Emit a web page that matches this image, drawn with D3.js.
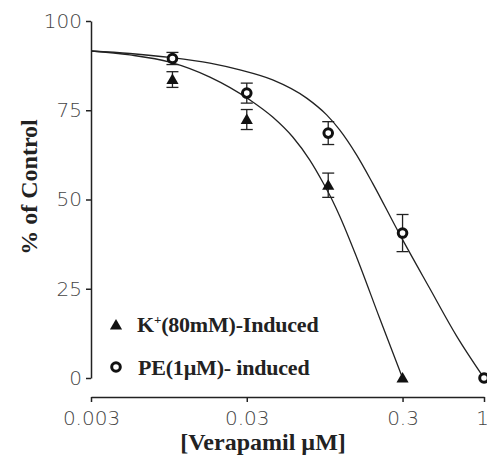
<!DOCTYPE html>
<html>
  <head>
    <meta charset="utf-8">
    <title>Verapamil inhibition</title>
    <script src="https://d3js.org/d3.v7.min.js"></script>
    <style>
      body { margin: 0; background: #fff; }
      .axis path, .axis line { stroke: #222; stroke-width: 1.5; }
      .axis text { font-family: "DejaVu Sans", sans-serif; font-weight: 200; font-size: 20px; fill: #444; }
      .title { font-family: "Liberation Serif", "Times New Roman", serif; font-weight: bold; font-size: 24px; fill: #222; }
      .legend { font-family: "Liberation Serif", "Times New Roman", serif; font-weight: bold; font-size: 22px; fill: #222; letter-spacing: -0.2px; }
      .fit { fill: none; stroke: #222; stroke-width: 1.3; }
      .err { stroke: #222; stroke-width: 1.3; }
    </style>
  </head>
  <body>
    <svg id="chart" width="487" height="461"></svg>
    <script>
      // measured points (mean, +/- error)
      var kDoses = [0.01, 0.03, 0.1, 0.3];
      var kMean = [83.6, 72.4, 54, 0];
      var kErr = [2.2, 2.8, 3.4, 0];
      var peDoses = [0.01, 0.03, 0.1, 0.3, 1];
      var peMean = [89.5, 79.8, 68.6, 40.6, 0];
      var peErr = [1.7, 2.8, 3.2, 5.2, 0];

      // fitted curves
      var kCurveX = [0.003, 0.00533, 0.00962, 0.0174, 0.0314, 0.044, 0.0592, 0.076, 0.0921, 0.1068, 0.1184, 0.152, 0.2136, 0.3];
      var kCurveY = [91.6, 90.5, 88.5, 84.3, 77.9, 73.1, 67.5, 61.1, 54.9, 49.6, 45.4, 33.9, 16.8, 0];
      var peCurveX = [0.003, 0.00533, 0.00962, 0.0174, 0.0271, 0.044, 0.0727, 0.0977, 0.1184, 0.152, 0.1926, 0.287, 0.447, 0.666, 1];
      var peCurveY = [91.6, 90.9, 89.8, 88.2, 86.3, 83.5, 78.4, 73.7, 69.5, 62.5, 54.6, 40.3, 25.2, 11.8, 0];

      // axes
      var xTicks = [0.003, 0.03, 0.3, 1];
      var xTickLabels = ["0.003", "0.03", "0.3", "1"];
      var yTicks = [0, 25, 50, 75, 100];

      var svg = d3.select("#chart");

      var x = d3.scaleLog().domain([0.003, 1]).range([91, 484]);
      var y = d3.scaleLinear().domain([0, 100]).range([378, 21]);

      var xAxis = d3.axisBottom(x)
        .tickValues(xTicks)
        .tickFormat(function(d, i) { return xTickLabels[i]; })
        .tickSize(5)
        .tickSizeOuter(0)
        .tickPadding(9);
      var yAxis = d3.axisLeft(y)
        .tickValues(yTicks)
        .tickSize(5)
        .tickSizeOuter(0)
        .tickPadding(4);

      svg.append("g")
        .attr("class", "axis")
        .attr("transform", "translate(0,397)")
        .call(xAxis);
      svg.append("g")
        .attr("class", "axis")
        .attr("transform", "translate(91,0)")
        .call(yAxis);
      // keep the last tick label inside the picture
      svg.selectAll(".axis text")
        .filter(function(d) { return d === 1; })
        .attr("dx", -2);

      // titles
      svg.append("text")
        .attr("class", "title")
        .attr("transform", "translate(37,187) rotate(-90)")
        .attr("text-anchor", "middle")
        .text("% of Control");
      svg.append("text")
        .attr("class", "title")
        .attr("x", 263)
        .attr("y", 450)
        .attr("text-anchor", "middle")
        .text("[Verapamil \u00b5M]");

      // fitted lines
      var line = d3.line()
        .x(function(d) { return x(d[0]); })
        .y(function(d) { return y(d[1]); })
        .curve(d3.curveMonotoneX);
      svg.append("path")
        .attr("class", "fit")
        .attr("d", line(d3.zip(kCurveX, kCurveY)));
      svg.append("path")
        .attr("class", "fit")
        .attr("d", line(d3.zip(peCurveX, peCurveY)));

      // error bars
      function errorBars(doses, means, errs) {
        var rows = d3.zip(doses, means, errs).filter(function(d) { return d[2] > 0; });
        var g = svg.append("g");
        rows.forEach(function(d) {
          var cx = x(d[0]);
          g.append("line").attr("class", "err")
            .attr("x1", cx).attr("x2", cx)
            .attr("y1", y(d[1] - d[2])).attr("y2", y(d[1] + d[2]));
          [d[1] - d[2], d[1] + d[2]].forEach(function(v) {
            g.append("line").attr("class", "err")
              .attr("x1", cx - 6).attr("x2", cx + 6)
              .attr("y1", y(v)).attr("y2", y(v));
          });
        });
      }
      errorBars(kDoses, kMean, kErr);
      errorBars(peDoses, peMean, peErr);

      // markers
      var triangle = d3.symbol().type(d3.symbolTriangle).size(64);
      svg.append("g")
        .selectAll("path")
          .data(d3.zip(kDoses, kMean))
        .enter().append("path")
          .attr("d", triangle)
          .attr("transform", function(d) { return "translate(" + x(d[0]) + "," + (y(d[1]) + 1) + ")"; })
          .attr("fill", "#111");
      svg.append("g")
        .selectAll("circle")
          .data(d3.zip(peDoses, peMean))
        .enter().append("circle")
          .attr("cx", function(d) { return x(d[0]); })
          .attr("cy", function(d) { return y(d[1]); })
          .attr("r", 4.3)
          .attr("fill", "#fff")
          .attr("stroke", "#111")
          .attr("stroke-width", 3);

      // legend
      svg.append("path")
        .attr("d", triangle)
        .attr("transform", "translate(116,326)")
        .attr("fill", "#111");
      var k = svg.append("text")
        .attr("class", "legend")
        .attr("x", 137)
        .attr("y", 332);
      k.append("tspan").text("K");
      k.append("tspan").attr("dy", -8).attr("font-size", 13).text("+");
      k.append("tspan").attr("dy", 8).text("(80mM)-Induced");
      svg.append("circle")
        .attr("cx", 116)
        .attr("cy", 367)
        .attr("r", 4.3)
        .attr("fill", "#fff")
        .attr("stroke", "#111")
        .attr("stroke-width", 3);
      svg.append("text")
        .attr("class", "legend")
        .attr("x", 138)
        .attr("y", 375)
        .text("PE(1\u00b5M)- induced");
    </script>
  </body>
</html>
